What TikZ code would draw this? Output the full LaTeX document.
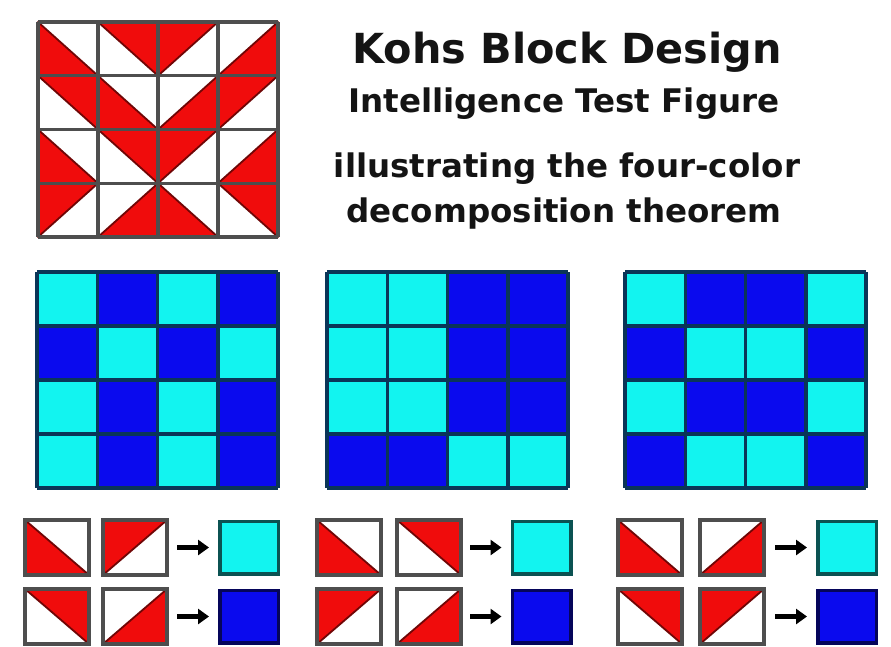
\documentclass[tikz,border=0pt]{standalone}
\usepackage{fontspec}
\setmainfont{DejaVu Sans}
\usetikzlibrary{arrows.meta}
\definecolor{kred}{HTML}{F00C0C}
\definecolor{kdred}{HTML}{700606}
\definecolor{kC}{HTML}{12F4F0}
\definecolor{kB}{HTML}{0A0AEE}
\definecolor{kCb}{HTML}{0B5252}
\definecolor{kBb}{HTML}{05055A}
\definecolor{kgray}{HTML}{4E4E4E}
\definecolor{kbline}{HTML}{0A3558}
\definecolor{ktext}{HTML}{141414}
\tikzset{
  redtri/.style={fill=kred, draw=kdred, line width=1.8pt, line join=round},
  redline/.style={draw=kgray, line width=3.2pt, line cap=square},
  bgline/.style={draw=kbline, line width=3.5pt, line cap=square},
  tilebox/.style={draw=kgray, line width=3.2pt},
  ctile/.style={rectangle, line width=3.5pt, minimum width=58.5pt, minimum height=52.5pt, inner sep=0pt, outer sep=1.75pt},
  cyantile/.style={ctile, fill=kC, draw=kCb},
  bluetile/.style={ctile, fill=kB, draw=kBb},
  karrow/.style={-{Triangle[length=11pt,width=15pt]}, line width=4.5pt, draw=black, shorten >=9pt},
  titletext/.style={anchor=base, text=ktext, font=\bfseries\fontsize{41.4}{48}\selectfont, inner sep=0pt},
  subtext/.style={anchor=base, text=ktext, font=\bfseries\fontsize{32.5}{38}\selectfont, inner sep=0pt}
}
\newcommand\kLL[4]{\filldraw[redtri] (#1,#2) -- (#1,#4) -- (#3,#4) -- cycle;}
\newcommand\kUR[4]{\filldraw[redtri] (#1,#2) -- (#3,#2) -- (#3,#4) -- cycle;}
\newcommand\kUL[4]{\filldraw[redtri] (#1,#2) -- (#3,#2) -- (#1,#4) -- cycle;}
\newcommand\kLR[4]{\filldraw[redtri] (#3,#2) -- (#3,#4) -- (#1,#4) -- cycle;}
\newcommand\kcell[5]{\csname k#5\endcsname{#1}{#2}{#3}{#4}}
\newcommand\ktile[5]{\fill[white] (#1,#2) rectangle (#3,#4);\kcell{#1}{#2}{#3}{#4}{#5}\draw[tilebox] (#1,#2) rectangle (#3,#4);}
\newcommand\kbgrid[2]{%
  \foreach \row [count=\r from 0] in {#2} {
    \foreach \t [count=\c from 0] in \row {
      \fill[fill=k\t] (#1+60.25*\c,272+54*\r) rectangle ++(60.25,54);
    }
  }
  \foreach \i in {0,...,4} {
    \draw[bgline] (#1+60.25*\i,272) -- ++(0,216);
    \draw[bgline] (#1,272+54*\i) -- ++(241,0);
  }
}
\begin{document}
\begin{tikzpicture}[x=1pt,y=-1pt]
\useasboundingbox (0,0) rectangle (891,646);
\fill[white] (0,0) rectangle (891,646);

% big red design
\foreach \row [count=\r from 0] in {{LL,UR,UL,LR},{UR,LL,LR,UL},{LL,UR,UL,LR},{UL,LR,LL,UR}} {
  \foreach \t [count=\c from 0] in \row {
    \pgfmathsetmacro\xa{38+60*\c}
    \pgfmathsetmacro\xb{98+60*\c}
    \pgfmathsetmacro\ya{22+53.75*\r}
    \pgfmathsetmacro\yb{75.75+53.75*\r}
    \kcell{\xa}{\ya}{\xb}{\yb}{\t}
  }
}
\foreach \i in {0,...,4} {
  \draw[redline] (38+60*\i,22) -- (38+60*\i,237);
  \draw[redline] (38,22+53.75*\i) -- (278,22+53.75*\i);
}

% title
\node[titletext] (t1) at (567,63) {Kohs Block Design};
\node[subtext] (t2) at (564,112) {Intelligence Test Figure};
\node[subtext] (t3) at (567,177) {illustrating the four-color};
\node[subtext] (t4) at (564,222) {decomposition theorem};

% blue grids
\kbgrid{37}{{C,B,C,B},{B,C,B,C},{C,B,C,B},{C,B,C,B}}
\kbgrid{327}{{C,C,B,B},{C,C,B,B},{C,C,B,B},{B,B,C,C}}
\kbgrid{625}{{C,B,B,C},{B,C,C,B},{C,B,B,C},{B,C,C,B}}

% bottom: left group
\ktile{25}{520}{89}{575}{LL}
\ktile{103}{520}{167}{575}{UL}
\ktile{25}{589}{89}{644}{UR}
\ktile{103}{589}{167}{644}{LR}
\node[cyantile] (LA) at (249,547.5) {};
\node[bluetile] (LB) at (249,616.5) {};
\coordinate (LAs) at (177,547.5);
\coordinate (LBs) at (177,616.5);
\draw[karrow] (LAs) -- (LA);
\draw[karrow] (LBs) -- (LB);

% middle group
\ktile{317}{520}{381}{575}{LL}
\ktile{397}{520}{461}{575}{UR}
\ktile{317}{589}{381}{644}{UL}
\ktile{397}{589}{461}{644}{LR}
\node[cyantile] (MA) at (541.5,547.5) {};
\node[bluetile] (MB) at (541.5,616.5) {};
\coordinate (MAs) at (470,547.5);
\coordinate (MBs) at (470,616.5);
\draw[karrow] (MAs) -- (MA);
\draw[karrow] (MBs) -- (MB);

% right group
\ktile{618}{520}{682}{575}{LL}
\ktile{700}{520}{764}{575}{LR}
\ktile{618}{589}{682}{644}{UR}
\ktile{700}{589}{764}{644}{UL}
\node[cyantile] (RA) at (847,547.5) {};
\node[bluetile] (RB) at (847,616.5) {};
\coordinate (RAs) at (775,547.5);
\coordinate (RBs) at (775,616.5);
\draw[karrow] (RAs) -- (RA);
\draw[karrow] (RBs) -- (RB);
\end{tikzpicture}
\end{document}
